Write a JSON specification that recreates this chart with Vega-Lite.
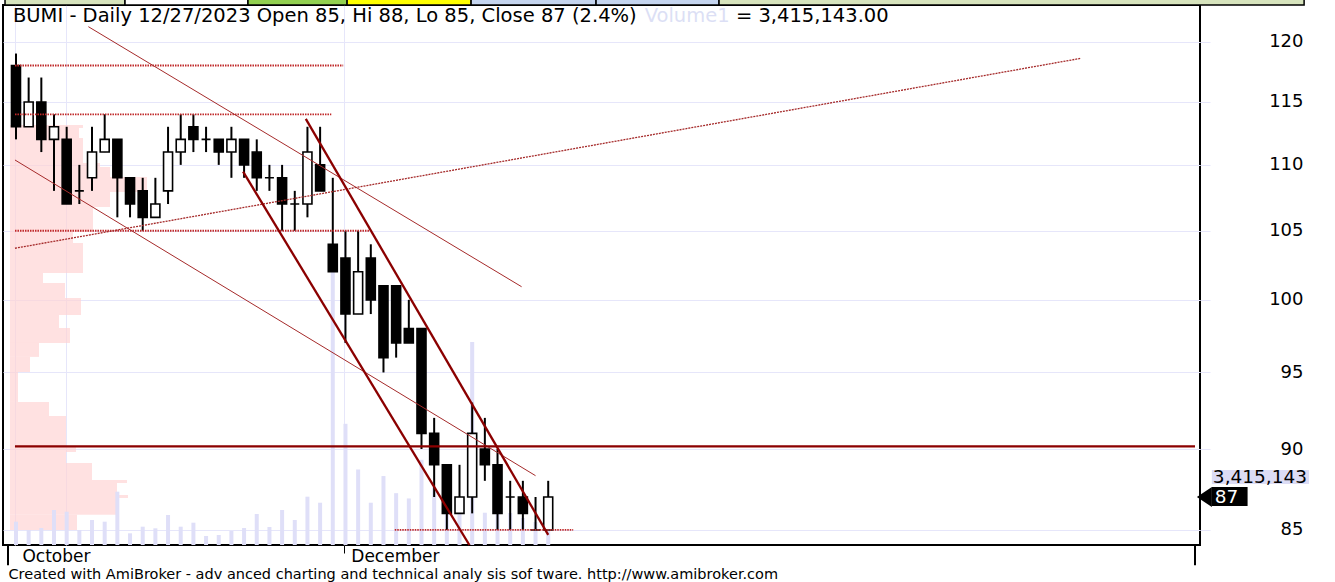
{
  "$schema": "https://vega.github.io/schema/vega-lite/v6.json",
  "width": 1197,
  "height": 540,
  "autosize": "none",
  "padding": {"left": 3, "top": 5, "right": 135, "bottom": 37},
  "background": "white",
  "config": {"view": {"stroke": "black", "strokeWidth": 2}, "font": "DejaVu Sans"},
  "datasets": {
    "candles": [
      {"i": 0, "o": 118, "h": 119, "l": 112, "c": 113, "v": 5.31},
      {"i": 1, "o": 113, "h": 117, "l": 113, "c": 115, "v": 3.42},
      {"i": 2, "o": 115, "h": 117, "l": 111, "c": 112, "v": 3.87},
      {"i": 3, "o": 112, "h": 114, "l": 108, "c": 113, "v": 7.97},
      {"i": 4, "o": 112, "h": 113, "l": 107, "c": 107, "v": 7.58},
      {"i": 5, "o": 108, "h": 110, "l": 107, "c": 108, "v": 3.42},
      {"i": 6, "o": 109, "h": 113, "l": 108, "c": 111, "v": 5.69},
      {"i": 7, "o": 111, "h": 114, "l": 111, "c": 112, "v": 5.31},
      {"i": 8, "o": 112, "h": 112, "l": 106, "c": 109, "v": 12.14},
      {"i": 9, "o": 109, "h": 109, "l": 106, "c": 107, "v": 2.66},
      {"i": 10, "o": 108, "h": 109, "l": 105, "c": 106, "v": 4.17},
      {"i": 11, "o": 106, "h": 109, "l": 106, "c": 107, "v": 3.8},
      {"i": 12, "o": 108, "h": 113, "l": 107, "c": 111, "v": 6.83},
      {"i": 13, "o": 111, "h": 114, "l": 110, "c": 112, "v": 4.17},
      {"i": 14, "o": 113, "h": 114, "l": 111, "c": 112, "v": 5.08},
      {"i": 15, "o": 112, "h": 113, "l": 111, "c": 112, "v": 2.05},
      {"i": 16, "o": 112, "h": 112, "l": 110, "c": 111, "v": 2.28},
      {"i": 17, "o": 111, "h": 113, "l": 109, "c": 112, "v": 3.19},
      {"i": 18, "o": 112, "h": 112, "l": 109, "c": 110, "v": 3.87},
      {"i": 19, "o": 111, "h": 112, "l": 108, "c": 109, "v": 7.06},
      {"i": 20, "o": 109, "h": 110, "l": 108, "c": 109, "v": 4.1},
      {"i": 21, "o": 109, "h": 110, "l": 105, "c": 107, "v": 7.97},
      {"i": 22, "o": 107, "h": 108, "l": 105, "c": 107, "v": 5.69},
      {"i": 23, "o": 107, "h": 113, "l": 106, "c": 111, "v": 11.0},
      {"i": 24, "o": 110, "h": 113, "l": 108, "c": 108, "v": 9.63},
      {"i": 25, "o": 104, "h": 109, "l": 102, "c": 102, "v": 63.8},
      {"i": 26, "o": 103, "h": 105, "l": 97, "c": 99, "v": 27.6},
      {"i": 27, "o": 99, "h": 105, "l": 99, "c": 102, "v": 17.2},
      {"i": 28, "o": 103, "h": 104, "l": 99, "c": 100, "v": 9.63},
      {"i": 29, "o": 101, "h": 101, "l": 95, "c": 96, "v": 15.7},
      {"i": 30, "o": 101, "h": 101, "l": 96, "c": 97, "v": 11.8},
      {"i": 31, "o": 98, "h": 100, "l": 97, "c": 97, "v": 10.6},
      {"i": 32, "o": 98, "h": 98, "l": 90, "c": 91, "v": 19.4},
      {"i": 33, "o": 91, "h": 92, "l": 87, "c": 89, "v": 13.2},
      {"i": 34, "o": 89, "h": 89, "l": 85, "c": 86, "v": 9.1},
      {"i": 35, "o": 86, "h": 89, "l": 86, "c": 87, "v": 9.1},
      {"i": 36, "o": 87, "h": 93, "l": 86, "c": 91, "v": 46.2},
      {"i": 37, "o": 90, "h": 92, "l": 88, "c": 89, "v": 7.35},
      {"i": 38, "o": 89, "h": 90, "l": 85, "c": 86, "v": 7.97},
      {"i": 39, "o": 87, "h": 88, "l": 85, "c": 87, "v": 7.29},
      {"i": 40, "o": 87, "h": 88, "l": 85, "c": 86, "v": 6.15},
      {"i": 41, "o": 85, "h": 87, "l": 85, "c": 85, "v": 5.24},
      {"i": 42, "o": 85, "h": 88, "l": 85, "c": 87, "v": 3.415}
    ],
    "profile": [
      {"lo": 112.91, "hi": 113.15, "pv": 73},
      {"lo": 112.11, "hi": 112.91, "pv": 69},
      {"lo": 110.15, "hi": 112.11, "pv": 73},
      {"lo": 109.84, "hi": 110.15, "pv": 90},
      {"lo": 109.07, "hi": 109.84, "pv": 100},
      {"lo": 107.92, "hi": 109.07, "pv": 137},
      {"lo": 106.78, "hi": 107.92, "pv": 100},
      {"lo": 106.03, "hi": 106.78, "pv": 83},
      {"lo": 104.91, "hi": 106.03, "pv": 83},
      {"lo": 104.1, "hi": 104.91, "pv": 63},
      {"lo": 101.92, "hi": 104.1, "pv": 73},
      {"lo": 101.2, "hi": 101.92, "pv": 33},
      {"lo": 100.13, "hi": 101.2, "pv": 55},
      {"lo": 98.94, "hi": 100.13, "pv": 71},
      {"lo": 98.03, "hi": 98.94, "pv": 49},
      {"lo": 97.0, "hi": 98.03, "pv": 60},
      {"lo": 96.05, "hi": 97.0, "pv": 29},
      {"lo": 95.03, "hi": 96.05, "pv": 20},
      {"lo": 93.04, "hi": 95.03, "pv": 8},
      {"lo": 92.13, "hi": 93.04, "pv": 39},
      {"lo": 90.13, "hi": 92.13, "pv": 56},
      {"lo": 89.81, "hi": 90.13, "pv": 66},
      {"lo": 89.12, "hi": 89.81, "pv": 56},
      {"lo": 88.05, "hi": 89.12, "pv": 82},
      {"lo": 87.87, "hi": 88.05, "pv": 117},
      {"lo": 87.13, "hi": 87.87, "pv": 107},
      {"lo": 86.94, "hi": 87.13, "pv": 118},
      {"lo": 85.91, "hi": 86.94, "pv": 107},
      {"lo": 85.0, "hi": 85.91, "pv": 67}
    ],
    "channel": [
      {"id": "A", "i": 17.92, "p": 109.47},
      {"id": "A", "i": 35.78, "p": 84.1},
      {"id": "B", "i": 22.87, "p": 113.63},
      {"id": "B", "i": 42.0, "p": 84.7},
      {"id": "H", "i": -0.08, "p": 90.17},
      {"id": "H", "i": 93.04, "p": 90.17}
    ],
    "trend": [
      {"id": "T1", "i": 5.71, "p": 121.28},
      {"id": "T1", "i": 39.9, "p": 100.93},
      {"id": "T2", "i": -0.08, "p": 110.38},
      {"id": "T2", "i": 41.0, "p": 88.32}
    ],
    "rising": [
      {"id": "R3", "i": -0.08, "p": 103.71},
      {"id": "R3", "i": 84.04, "p": 118.6}
    ],
    "levels": [
      {"id": "L118", "i": -0.08, "p": 118},
      {"id": "L118", "i": 25.82, "p": 118},
      {"id": "L114", "i": -0.08, "p": 114},
      {"id": "L114", "i": 24.88, "p": 114},
      {"id": "L105", "i": -0.08, "p": 105},
      {"id": "L105", "i": 27.86, "p": 105},
      {"id": "L85", "i": 29.89, "p": 85},
      {"id": "L85", "i": 43.97, "p": 85}
    ],
    "tabs": [
      {"tab": "t1", "x0": -0.865, "x1": 8.604},
      {"tab": "t2", "x0": 8.604, "x1": 18.307},
      {"tab": "t3", "x0": 18.307, "x1": 26.13},
      {"tab": "t4", "x0": 26.13, "x1": 35.915},
      {"tab": "t5", "x0": 35.915, "x1": 45.775},
      {"tab": "t6", "x0": 45.775, "x1": 55.48},
      {"tab": "t7", "x0": 55.48, "x1": 101.65}
    ]
  },
  "resolve": {"scale": {"x": "independent", "y": "independent"}},
  "layer": [
    {
      "data": {"name": "profile"},
      "mark": {"type": "rect", "color": "#ffd3d3", "opacity": 0.68},
      "encoding": {
        "x": {"field": "pv", "type": "quantitative", "scale": {"domain": [-7, 1190], "nice": false, "zero": false}, "axis": null},
        "x2": {"datum": 0},
        "y": {"field": "lo", "type": "quantitative", "scale": {"type": "log", "domain": [84.1, 123.15], "nice": false}, "axis": null},
        "y2": {"field": "hi"}
      }
    },
    {
      "data": {"name": "candles"},
      "mark": {"type": "bar", "color": "#dfdff8", "width": 4},
      "encoding": {
        "x": {"field": "i", "type": "quantitative", "scale": {"domain": [-0.63, 93.04], "nice": false, "zero": false}, "axis": null},
        "y": {"field": "v", "type": "quantitative", "scale": {"domain": [0, 122.96], "nice": false}, "axis": null}
      }
    },
    {
      "layer": [
        {
          "data": {"name": "tabs"},
          "mark": {"type": "rect", "stroke": "black", "strokeWidth": 1.5},
          "encoding": {
            "x": {"field": "x0", "type": "quantitative", "scale": {"domain": [-0.63, 93.04], "nice": false, "zero": false}},
            "x2": {"field": "x1"},
            "y": {"datum": 123.15, "type": "quantitative", "scale": {"type": "log", "domain": [84.1, 123.15], "nice": false}},
            "y2": {"datum": 124.8},
            "fill": {"field": "tab", "type": "nominal", "scale": {"domain": ["t1", "t2", "t3", "t4", "t5", "t6", "t7"], "range": ["#d7e4bd", "#ffffff", "#92d050", "#ffff00", "#c5d5ef", "#c5d5ef", "#d7e4bd"]}, "legend": null}
          }
        },
        {
          "data": {"values": [{"i": -0.63}, {"i": 93.04}]},
          "mark": {"type": "rule", "color": "black", "strokeWidth": 2},
          "encoding": {
            "x": {"field": "i", "type": "quantitative", "scale": {"domain": [-0.63, 93.04], "nice": false, "zero": false}},
            "y": {"datum": 84.1, "type": "quantitative", "scale": {"type": "log", "domain": [84.1, 123.15], "nice": false}},
            "y2": {"datum": 82.9}
          }
        },
        {
          "data": {"name": "candles"},
          "mark": {"type": "rule", "color": "black", "strokeWidth": 2},
          "encoding": {
            "x": {
              "field": "i", "type": "quantitative",
              "scale": {"domain": [-0.63, 93.04], "nice": false, "zero": false},
              "axis": {
                "orient": "bottom",
                "values": [-0.08, 3.91, 25.87],
                "labelExpr": "datum.value < 1 ? 'October' : (datum.value > 20 ? 'December' : '')",
                "grid": true, "gridColor": "#e6e6fa", "gridWidth": 1,
                "ticks": true, "tickSize": 8, "tickWidth": 1,
                "tickColor": {"condition": {"test": "datum.value > 20", "value": "black"}, "value": "rgba(0,0,0,0)"},
                "domain": false,
                "labelAlign": "left", "labelBaseline": "top", "labelPadding": -5, "labelOffset": 7,
                "labelFontSize": 17, "labelColor": "black", "labelFont": "DejaVu Sans",
                "labelFlush": false, "labelOverlap": false,
                "title": "Created with AmiBroker - adv anced charting and technical analy sis sof tware. http://www.amibroker.com",
                "titleAnchor": "start", "titleAlign": "left", "titleX": 5, "titleY": 29, "titleBaseline": "middle",
                "titleFontSize": 14.5, "titleFontWeight": "normal", "titleColor": "black", "titleFont": "DejaVu Sans"
              }
            },
            "y": {
              "field": "l", "type": "quantitative",
              "scale": {"type": "log", "domain": [84.1, 123.15], "nice": false},
              "axis": {
                "orient": "right",
                "values": [85, 90, 95, 100, 105, 110, 115, 120],
                "format": "d", "title": null,
                "grid": true, "gridColor": "#e6e6fa", "gridWidth": 1,
                "tickColor": "#e6e6fa", "tickSize": 10, "tickWidth": 1,
                "domain": false,
                "labelAlign": "right", "labelBaseline": "middle", "labelPadding": 93,
                "labelFontSize": 18, "labelColor": "black", "labelFont": "DejaVu Sans",
                "labelFlush": false, "labelOverlap": false
              }
            },
            "y2": {"field": "h"}
          }
        },
        {
          "data": {"name": "candles"},
          "mark": {"type": "bar", "width": 9, "stroke": "black", "strokeWidth": 1.6},
          "encoding": {
            "x": {"field": "i", "type": "quantitative", "scale": {"domain": [-0.63, 93.04], "nice": false, "zero": false}},
            "y": {"field": "o", "type": "quantitative", "scale": {"type": "log", "domain": [84.1, 123.15], "nice": false}},
            "y2": {"field": "c"},
            "fill": {"condition": {"test": "datum.c < datum.o", "value": "black"}, "value": "white"}
          }
        },
        {
          "data": {"name": "levels"},
          "mark": {"type": "line", "color": "#c02828", "strokeWidth": 1.8, "strokeDash": [1.5, 1]},
          "encoding": {
            "x": {"field": "i", "type": "quantitative", "scale": {"domain": [-0.63, 93.04], "nice": false, "zero": false}},
            "y": {"field": "p", "type": "quantitative", "scale": {"type": "log", "domain": [84.1, 123.15], "nice": false}},
            "detail": {"field": "id", "type": "nominal"}
          }
        },
        {
          "data": {"name": "rising"},
          "mark": {"type": "line", "color": "#a52a2a", "strokeWidth": 1.3, "strokeDash": [2, 1]},
          "encoding": {
            "x": {"field": "i", "type": "quantitative", "scale": {"domain": [-0.63, 93.04], "nice": false, "zero": false}},
            "y": {"field": "p", "type": "quantitative", "scale": {"type": "log", "domain": [84.1, 123.15], "nice": false}},
            "detail": {"field": "id", "type": "nominal"}
          }
        },
        {
          "data": {"name": "trend"},
          "mark": {"type": "line", "color": "#a52a2a", "strokeWidth": 1},
          "encoding": {
            "x": {"field": "i", "type": "quantitative", "scale": {"domain": [-0.63, 93.04], "nice": false, "zero": false}},
            "y": {"field": "p", "type": "quantitative", "scale": {"type": "log", "domain": [84.1, 123.15], "nice": false}},
            "detail": {"field": "id", "type": "nominal"}
          }
        },
        {
          "data": {"name": "channel"},
          "mark": {"type": "line", "color": "#8b0000", "strokeWidth": 2.3},
          "encoding": {
            "x": {"field": "i", "type": "quantitative", "scale": {"domain": [-0.63, 93.04], "nice": false, "zero": false}},
            "y": {"field": "p", "type": "quantitative", "scale": {"type": "log", "domain": [84.1, 123.15], "nice": false}},
            "detail": {"field": "id", "type": "nominal"}
          }
        },
        {
          "data": {"values": [{"i": -0.239, "p": 121.64, "t": "BUMI - Daily 12/27/2023 Open 85, Hi 88, Lo 85, Close 87 (2.4%)"}, {"i": 56.81, "p": 121.64, "t": "= 3,415,143.00"}]},
          "mark": {"type": "text", "align": "left", "baseline": "alphabetic", "fontSize": 19.5, "color": "black", "font": "DejaVu Sans"},
          "encoding": {
            "x": {"field": "i", "type": "quantitative", "scale": {"domain": [-0.63, 93.04], "nice": false, "zero": false}},
            "y": {"field": "p", "type": "quantitative", "scale": {"type": "log", "domain": [84.1, 123.15], "nice": false}},
            "text": {"field": "t"}
          }
        },
        {
          "data": {"values": [{"i": 49.61, "p": 121.64, "t": "Volume1"}]},
          "mark": {"type": "text", "align": "left", "baseline": "alphabetic", "fontSize": 19.5, "color": "#dcdff5", "font": "DejaVu Sans"},
          "encoding": {
            "x": {"field": "i", "type": "quantitative", "scale": {"domain": [-0.63, 93.04], "nice": false, "zero": false}},
            "y": {"field": "p", "type": "quantitative", "scale": {"type": "log", "domain": [84.1, 123.15], "nice": false}},
            "text": {"field": "t"}
          }
        },
        {
          "data": {"values": [{"x0": 94.37, "x1": 102.04, "lo": 87.81, "hi": 88.68}]},
          "mark": {"type": "rect", "color": "#dcdcf5"},
          "encoding": {
            "x": {"field": "x0", "type": "quantitative", "scale": {"domain": [-0.63, 93.04], "nice": false, "zero": false}},
            "x2": {"field": "x1"},
            "y": {"field": "lo", "type": "quantitative", "scale": {"type": "log", "domain": [84.1, 123.15], "nice": false}},
            "y2": {"field": "hi"}
          }
        },
        {
          "data": {"values": [{"x0": 94.37, "x1": 97.19, "lo": 86.45, "hi": 87.62}]},
          "mark": {"type": "rect", "color": "black"},
          "encoding": {
            "x": {"field": "x0", "type": "quantitative", "scale": {"domain": [-0.63, 93.04], "nice": false, "zero": false}},
            "x2": {"field": "x1"},
            "y": {"field": "lo", "type": "quantitative", "scale": {"type": "log", "domain": [84.1, 123.15], "nice": false}},
            "y2": {"field": "hi"}
          }
        },
        {
          "data": {"values": [{"i": 93.78, "p": 87.0}]},
          "mark": {"type": "point", "shape": "M1,-1.33L-1,0L1,1.33Z", "size": 225, "filled": true, "color": "black", "opacity": 1},
          "encoding": {
            "x": {"field": "i", "type": "quantitative", "scale": {"domain": [-0.63, 93.04], "nice": false, "zero": false}},
            "y": {"field": "p", "type": "quantitative", "scale": {"type": "log", "domain": [84.1, 123.15], "nice": false}}
          }
        },
        {
          "data": {"values": [{"i": 94.45, "p": 88.24, "t": "3,415,143"}]},
          "mark": {"type": "text", "align": "left", "baseline": "middle", "fontSize": 18.5, "color": "black", "font": "DejaVu Sans"},
          "encoding": {
            "x": {"field": "i", "type": "quantitative", "scale": {"domain": [-0.63, 93.04], "nice": false, "zero": false}},
            "y": {"field": "p", "type": "quantitative", "scale": {"type": "log", "domain": [84.1, 123.15], "nice": false}},
            "text": {"field": "t"}
          }
        },
        {
          "data": {"values": [{"i": 94.6, "p": 87.02, "t": "87"}]},
          "mark": {"type": "text", "align": "left", "baseline": "middle", "fontSize": 18.5, "color": "white", "font": "DejaVu Sans"},
          "encoding": {
            "x": {"field": "i", "type": "quantitative", "scale": {"domain": [-0.63, 93.04], "nice": false, "zero": false}},
            "y": {"field": "p", "type": "quantitative", "scale": {"type": "log", "domain": [84.1, 123.15], "nice": false}},
            "text": {"field": "t"}
          }
        }
      ]
    }
  ]
}
